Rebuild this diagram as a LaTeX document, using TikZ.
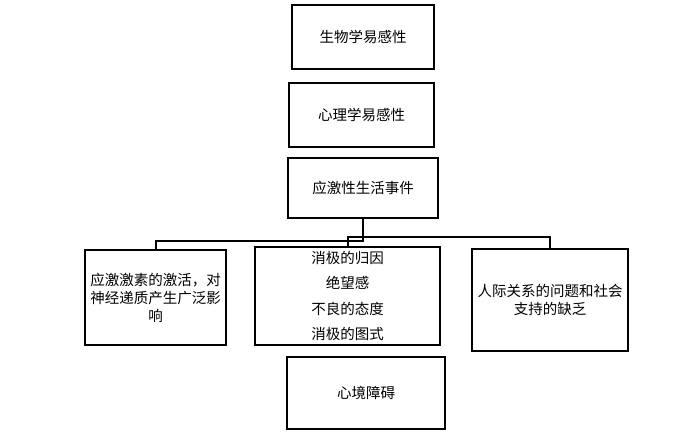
\documentclass[tikz,border=0pt]{standalone}
\usepackage{fontspec}
\newfontfamily\cjk{Noto Sans CJK SC}
\newcommand{\midline}[1]{\makebox[100pt][c]{#1}}
\begin{document}
\begin{tikzpicture}[x=1pt,y=-1pt,
  box/.style={draw=black,line width=2pt,fill=white,inner sep=0pt,align=center,
    font=\cjk\fontsize{14.5}{18}\selectfont},
  widebox/.style={box,font=\cjk\fontsize{14.5}{25.5}\selectfont},
  link/.style={draw=black,line width=2pt}]
\useasboundingbox[fill=white] (0,0) rectangle (695,434);
\node[box,minimum width=142,minimum height=64] (b1) at (363,37) {生物学易感性};
\node[box,minimum width=145,minimum height=64] (b2) at (361.5,115) {心理学易感性};
\node[box,minimum width=150,minimum height=60] (b3) at (363,188) {应激性生活事件};
\node[box,minimum width=141,minimum height=95] (l) at (155.5,297.5) {应激激素的激活，对\\神经递质产生广泛影\\响};
\node[widebox,minimum width=185,minimum height=98] (m) at (347.5,296) {\midline{消极的归因}\\\midline{绝望感}\\\midline{不良的态度}\\\midline{消极的图式}};
\node[box,minimum width=156,minimum height=102] (r) at (550,300) {人际关系的问题和社会\\支持的缺乏};
\node[box,minimum width=158,minimum height=72] (d) at (366,393) {心境障碍};
\draw[link] (b3.south) -- ++(0,22) -| (l.north);
\draw[link] (m.north) -- ++(0,-9) -| (r.north);
\end{tikzpicture}
\end{document}
